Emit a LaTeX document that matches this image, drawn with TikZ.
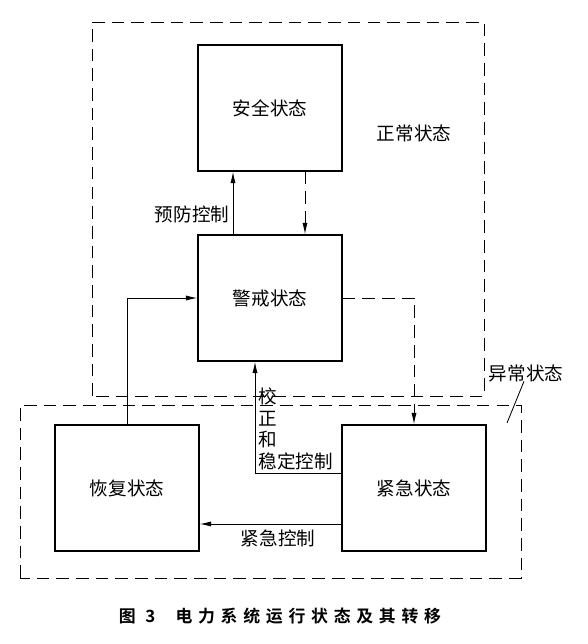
\documentclass[tikz,border=0pt]{standalone}
\usepackage{fontspec}
\usetikzlibrary{arrows.meta}
\newfontfamily\cjk{Noto Sans CJK SC}
\newfontfamily\cjkcap[LetterSpace=34]{Noto Sans CJK SC Bold}
\begin{document}
\begin{tikzpicture}[font=\cjk\fontsize{13.2}{15.5}\selectfont, >={Latex[length=8pt, width=3.6pt]},
      state/.style={draw, line width=1.1pt, minimum width=3.6cm, minimum height=3.15cm, align=center},
      region/.style={draw, line width=0.6pt, dash pattern=on 9pt off 5pt},
      ctrl/.style={->, line width=0.6pt},
      lbl/.style={inner sep=1pt, align=left}]
    \useasboundingbox (0,0) rectangle (14.7,16.1);
    \draw[region] (2.3,6.2) rectangle (12.1,15.55);
    \draw[region] (0.5,1.65) rectangle (13.025,5.975);
    \node[state] (safe) at (6.75,13.4) {安全状态};
    \node[state] (warn) at (6.75,8.65) {警戒状态};
    \node[state] (rec) at (3.175,3.9) {恢复状态};
    \node[state] (emer) at (10.35,3.9) {紧急状态};
    \draw[ctrl] ([xshift=-0.925cm]warn.north) -- ([xshift=-0.925cm]safe.south);
    \draw[ctrl, region] ([xshift=0.875cm]safe.south) -- ([xshift=0.875cm]warn.north);
    \draw[ctrl, region] (warn.east) -| (emer.north);
    \draw[ctrl] ([yshift=0.375cm]emer.west) -| ([xshift=-0.375cm]warn.south);
    \draw[ctrl] ([yshift=-0.9cm]emer.west) -- ([yshift=-0.9cm]rec.east);
    \draw[ctrl] (rec.north) |- (warn.west);
    \node[lbl] (prevent) at (4.8,10.75) {预防控制};
    \node[lbl, anchor=north west] (correct) at (6.42,6.45) {校\\正\\和\\稳定控制};
    \node[lbl] (emctrl) at (6.95,2.65) {紧急控制};
    \node[lbl] (normal) at (10.35,12.775) {正常状态};
    \node[lbl] (abnormal) at (13.15,6.775) {异常状态};
    \coordinate (tick) at (12.675,5.525);
    \draw[line width=0.6pt] ([xshift=-0.05cm, yshift=0.05cm]abnormal.south) -- (tick);
    \node[font=\cjkcap\fontsize{12}{14}\selectfont] (caption) at (7.0,0.7) {图 3\hspace{1.2em}电力系统运行状态及其转移};
  \end{tikzpicture}
\end{document}
